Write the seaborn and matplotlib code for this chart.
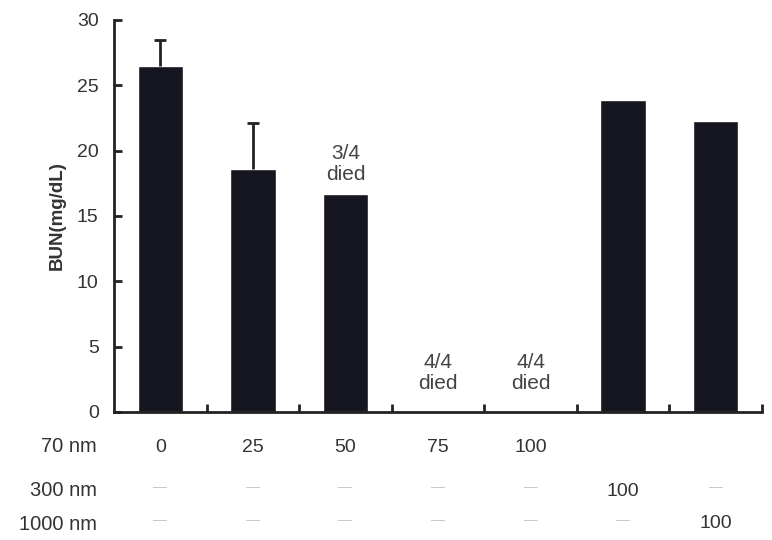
import matplotlib
matplotlib.use("Agg")
import matplotlib.pyplot as plt
import matplotlib.transforms as mtransforms
import seaborn as sns
import pandas as pd
import numpy as np

groups = ["g0", "g25", "g50", "g75", "g100", "g300", "g1000"]
bun = [26.5, 18.6, 16.7, 0, 0, 23.9, 22.3]
err_top = [28.5, 22.1, None, None, None, None, None]
row_70 = ["0", "25", "50", "75", "100", "", ""]
row_300 = ["—", "—", "—", "—", "—", "100", "—"]
row_1000 = ["—", "—", "—", "—", "—", "—", "100"]
death_notes = {2: "3/4\ndied", 3: "4/4\ndied", 4: "4/4\ndied"}

sns.set_style("white")
plt.rcParams['font.family'] = ['Liberation Sans', 'DejaVu Sans']

fig = plt.figure(figsize=(7.72, 5.4), dpi=100)
ax = fig.add_axes([114/772, 1-412/540, (762-114)/772, (412-20)/540])

df = pd.DataFrame({"group": groups, "bun": bun})
sns.barplot(data=df, x="group", y="bun", color="#15161f", saturation=1,
            width=0.49, errorbar=None, ax=ax)

# error bars (upper only)
for i, (v, e) in enumerate(zip(bun, err_top)):
    if e is not None:
        ax.vlines(i, v, e, color="#222222", linewidth=2)
        ax.hlines(e, i - 0.065, i + 0.065, color="#222222", linewidth=2)

ax.set_ylim(0, 30)
ax.set_xlim(-0.5, len(groups) - 0.5)
ax.set_yticks(np.arange(0, 31, 5))
ax.set_yticklabels([str(t) for t in range(0, 31, 5)], color="#333333", fontsize=14)
ax.set_xticks(np.arange(0.5, len(groups), 1))
ax.set_xticklabels([])
ax.tick_params(axis="y", left=True, direction="in", length=6, width=2,
               color="#222222", pad=11)
ax.tick_params(axis="x", bottom=True, direction="in", length=6, width=2,
               color="#222222")
ax.set_xlabel("")
ax.set_ylabel("BUN(mg/dL)", fontsize=13.5, fontweight="bold", color="#333333", labelpad=8)
for s in ["top", "right"]:
    ax.spines[s].set_visible(False)
for s in ["left", "bottom"]:
    ax.spines[s].set_color("#222222")
    ax.spines[s].set_linewidth(2)

for i, txt in death_notes.items():
    y = bun[i] + (0.75 if bun[i] > 0 else 1.45)
    ax.text(i, y, txt, ha="center", va="bottom", fontsize=15, color="#444444",
            linespacing=1.15)

trans = mtransforms.blended_transform_factory(ax.transData, fig.transFigure)
rows = [("70 nm", row_70, 447), ("300 nm", row_300, 491), ("1000 nm", row_1000, 524)]
for label, vals, ypix in rows:
    yf = 1 - ypix / 540
    fig.text(97/772, yf, label, ha="right", va="center", fontsize=14.5,
             color="#333333")
    for i, v in enumerate(vals):
        if v == "—":
            ax.text(i, yf + 0.008, "—", ha="center", va="center", transform=trans,
                    fontsize=10, color="#c8c8c8")
        elif v:
            ax.text(i, yf, v, ha="center", va="center", transform=trans,
                    fontsize=14, color="#333333")

fig.savefig("out.png", dpi=100)
